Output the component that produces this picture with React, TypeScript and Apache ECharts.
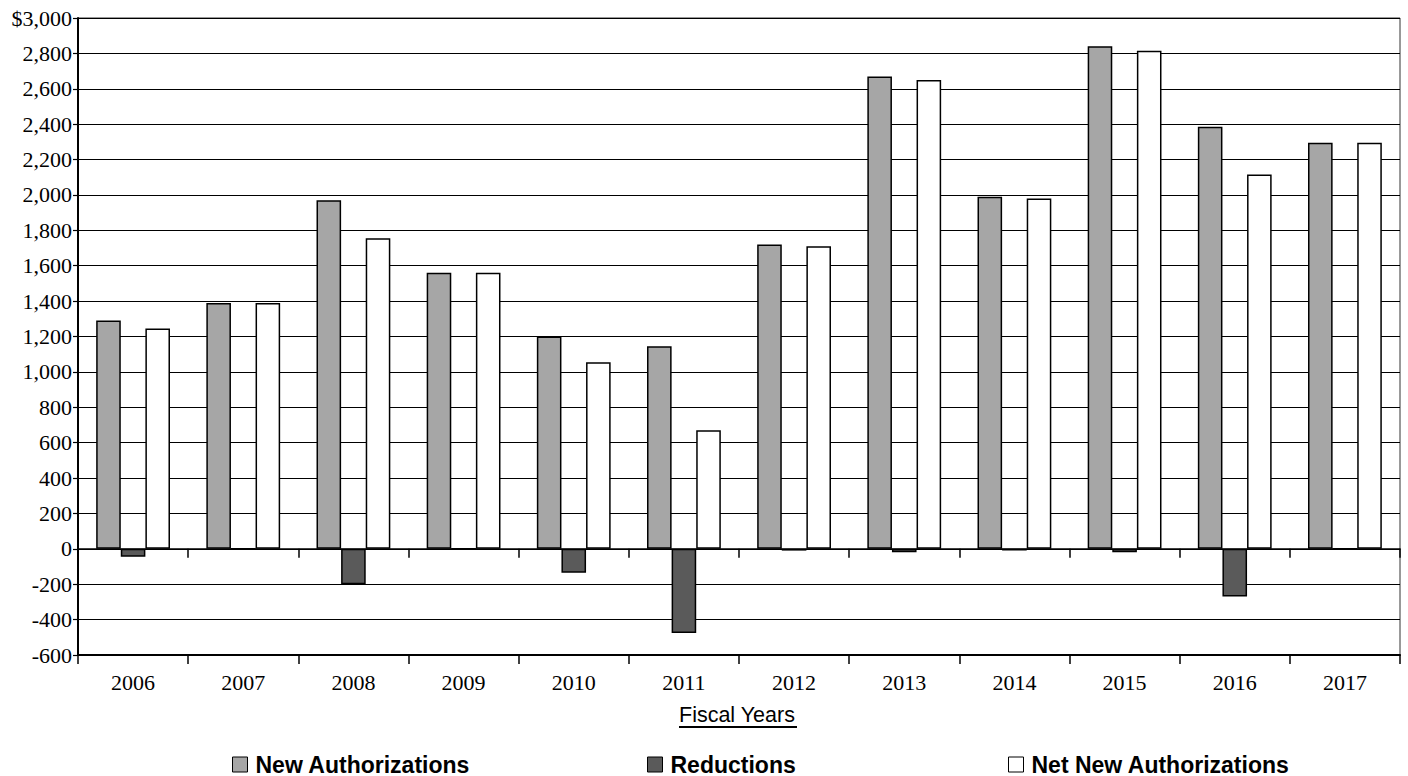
import React, { useEffect, useRef } from "react";
import * as echarts from "echarts";

const years = ["2006", "2007", "2008", "2009", "2010", "2011", "2012", "2013", "2014", "2015", "2016", "2017"];
const newAuthorizations = [1290, 1390, 1970, 1560, 1200, 1145, 1720, 2670, 1990, 2840, 2385, 2295];
const reductions = [-45, 0, -200, 0, -135, -475, -10, -20, -10, -20, -270, 0];
const netNewAuthorizations = [1245, 1390, 1755, 1560, 1055, 670, 1710, 2650, 1980, 2815, 2115, 2295];
const seriesNames = ["New Authorizations", "Reductions", "Net New Authorizations"];
const seriesColors = ["#a6a6a6", "#5a5a5a", "#ffffff"];
const axisTitle = "Fiscal Years";

export default function App() {
  const ref = useRef<HTMLDivElement>(null);
  useEffect(() => {
    if (!ref.current) return;
    const chart = echarts.init(ref.current, undefined, { renderer: "svg" });
    const serif = "'Liberation Serif', 'Times New Roman', serif";
    const sans = "'Liberation Sans', Arial, sans-serif";
    const dataSets = [newAuthorizations, reductions, netNewAuthorizations];
    const legendLefts = [232, 647, 1008];
    chart.setOption({
      animation: false,
      backgroundColor: "#ffffff",
      grid: {
        left: 78,
        right: 8,
        top: 18,
        bottom: 121,
        show: true,
        borderColor: "#333",
        borderWidth: 1,
        containLabel: false,
      },
      legend: seriesNames.map((n, i) => ({
        data: [n],
        left: legendLefts[i],
        top: 753,
        padding: 0,
        itemWidth: 15,
        itemHeight: 15,
        icon: "rect",
        itemStyle: { borderColor: "#000", borderWidth: 1 },
        textStyle: { fontFamily: sans, fontWeight: "bold", fontSize: 23, color: "#000", padding: [0, 0, 0, 3] },
      })),
      xAxis: [
        {
          type: "category",
          data: years,
          position: "bottom",
          axisLine: { onZero: false, lineStyle: { color: "#000", width: 2 } },
          axisTick: { show: true, length: 9, lineStyle: { color: "#000", width: 1.5 } },
          axisLabel: { fontFamily: serif, fontSize: 22, color: "#000", margin: 16 },
          splitLine: { show: false },
        },
        {
          type: "category",
          data: years,
          position: "bottom",
          axisLine: { onZero: true, lineStyle: { color: "#000", width: 1.5 } },
          axisTick: { show: true, length: 9, lineStyle: { color: "#000", width: 1.5 } },
          axisLabel: { show: false },
          splitLine: { show: false },
        },
      ],
      yAxis: {
        type: "value",
        min: -600,
        max: 3000,
        interval: 200,
        axisLine: { show: true, lineStyle: { color: "#000", width: 2 } },
        axisTick: { show: true, length: 5, lineStyle: { color: "#000", width: 1.2 } },
        axisLabel: {
          fontFamily: serif,
          fontSize: 22,
          color: "#000",
          margin: 6,
          formatter: (v: number) => (v === 3000 ? "$" : "") + v.toLocaleString("en-US"),
        },
        splitLine: { show: true, lineStyle: { color: "#000", width: 1.2 } },
      },
      series: seriesNames.map((n, i) => ({
        name: n,
        type: "bar",
        xAxisIndex: 0,
        data: dataSets[i],
        barGap: "0%",
        barCategoryGap: "33%",
        itemStyle: { color: seriesColors[i], borderColor: "#000", borderWidth: 1.5 },
      })),
      graphic: [
        {
          type: "text",
          left: 679,
          top: 704,
          style: { text: axisTitle, fontFamily: sans, fontSize: 21.5, fill: "#000" },
        },
        {
          type: "line",
          shape: { x1: 679, y1: 727, x2: 797, y2: 727 },
          style: { stroke: "#000", lineWidth: 2 },
        },
      ],
    });
    return () => chart.dispose();
  }, []);
  return <div ref={ref} style={{ position: "fixed", left: 0, top: 0, width: 1408, height: 776 }} />;
}
